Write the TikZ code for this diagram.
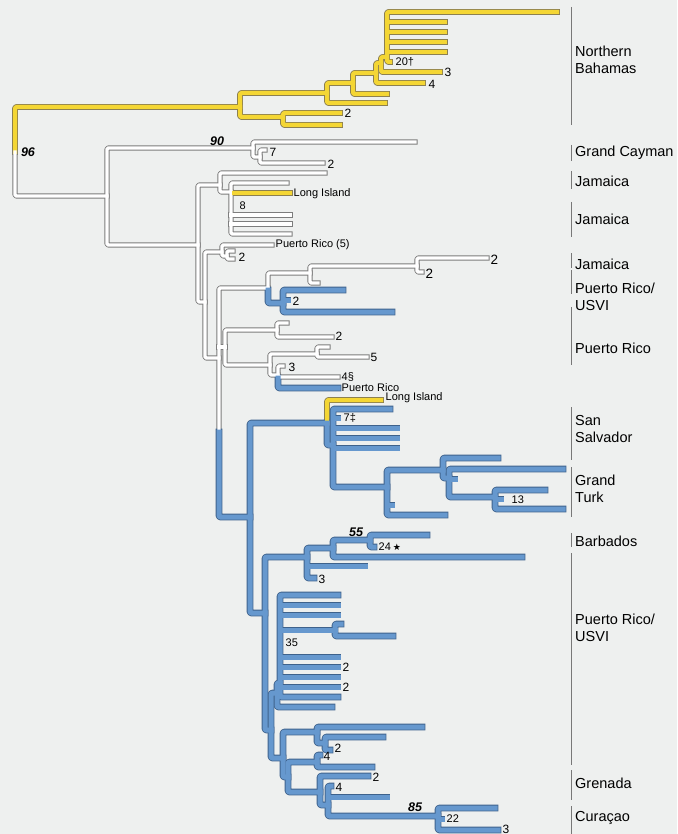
\documentclass[tikz,border=0pt]{standalone}
\usepackage{fontspec}
\setmainfont{Liberation Sans}
\newfontfamily\symfont{DejaVu Sans}
\definecolor{bgc}{RGB}{238,240,239}
\definecolor{yf}{RGB}{244,214,52}
\definecolor{yo}{RGB}{140,128,80}
\definecolor{bf}{RGB}{102,152,206}
\definecolor{bo}{RGB}{62,98,140}
\definecolor{wo}{RGB}{125,125,125}
\definecolor{regc}{RGB}{120,120,120}
\newcommand\brnode[6]{\draw[#1] (#4,#3) -- (#2,#3) -- (#2,#5) -- (#6,#5);}
\newcommand\brtip[4]{\draw[#1] (#2,#3) -- (#4,#3);}
\newcommand\treebody{%
% root
\draw[ybr] (240,107) -- (15,107) -- (15,152);
\draw[wbr] (15,152) -- (15,196) -- (107,196);
% Northern Bahamas (yellow)
\brnode{ybr}{240}{93}{327}{117}{283}
\brnode{ybr}{327}{83}{353}{103}{385}
\brnode{ybr}{353}{73}{376}{94}{387}
\brnode{ybr}{376}{63}{381}{83}{423}
\brnode{ybr}{381}{57}{387}{72}{440}
\brnode{ybr}{387}{12}{557}{62}{390}
\brtip{ybr}{387}{22}{445}
\brtip{ybr}{387}{32}{445}
\brtip{ybr}{387}{42}{445}
\brtip{ybr}{387}{52}{445}
\brnode{ybr}{283}{113}{340}{125}{340}
% Grand Cayman / Jamaica (white)
\brnode{wbr}{107}{148}{253}{245}{198}
\brnode{wbr}{253}{142}{415}{157}{260}
\brnode{wbr}{260}{150}{265}{163}{323}
\brnode{wbr}{198}{185}{220}{302}{205}
\brnode{wbr}{220}{173}{325}{192}{231}
\brnode{wbr}{231}{183}{287}{234}{290}
\brtip{ybr}{234}{193}{290}
\brtip{wbr}{231}{215}{290}
\brtip{wbr}{231}{224}{290}
\brnode{wbr}{205}{252}{222}{358}{219}
\brnode{wbr}{222}{245}{272}{256}{227}
\brnode{wbr}{227}{251}{233}{259}{233}
\draw[wbr] (268,288) -- (219,288) -- (219,432);
\draw[bbr] (219,432) -- (219,517) -- (250,517);
\brtip{wbr}{219}{347}{225}
\draw[wbr] (310,273) -- (268,273) -- (268,290);
\draw[bbr] (268,290) -- (268,303) -- (283,303);
\brnode{wbr}{310}{266}{417}{283}{318}
\brnode{wbr}{417}{258}{487}{272}{422}
\brnode{bbr}{283}{290}{343}{312}{392}
\brtip{bbr}{283}{300}{288}
% Puerto Rico
\brnode{wbr}{225}{330}{277}{365}{270}
\brnode{wbr}{277}{323}{287}{337}{332}
\brnode{wbr}{270}{354}{317}{375}{278}
\brnode{wbr}{317}{347}{328}{357}{367}
\draw[wbr] (283,366) -- (278,366) -- (278,377) -- (338,377);
\draw[bbr] (278,378) -- (278,388) -- (338,388);
% blue clade
\brnode{bbr}{250}{423}{327}{613}{265}
\draw[ybr] (381,400) -- (327,400) -- (327,423);
\draw[bbr] (327,423) -- (327,445) -- (333,445);
\brnode{bbr}{333}{409}{390}{487}{387}
\brtip{bbr}{333}{418}{338}
\brtip{bbr}{333}{428}{397}
\brtip{bbr}{333}{438}{397}
\brtip{bbr}{333}{448}{397}
% Grand Turk
\brnode{bbr}{387}{470}{443}{515}{445}
\brtip{bbr}{387}{505}{392}
\brnode{bbr}{443}{458}{498}{478}{449}
\brnode{bbr}{449}{469}{563}{497}{495}
\brtip{bbr}{449}{479}{455}
\brnode{bbr}{495}{490}{545}{509}{563}
\brtip{bbr}{495}{499}{501}
% Barbados
\brnode{bbr}{265}{557}{307}{730}{271}
\brnode{bbr}{307}{548}{333}{578}{314}
\brtip{bbr}{307}{566}{365}
\brnode{bbr}{333}{540}{370}{557}{522}
\brnode{bbr}{370}{535}{427}{547}{374}
% Puerto Rico / USVI
\brnode{bbr}{271}{693}{277}{758}{283}
\brnode{bbr}{277}{683}{280}{707}{332}
\brnode{bbr}{280}{595}{338}{697}{338}
\brtip{bbr}{280}{605}{338}
\brtip{bbr}{280}{615}{338}
\brtip{bbr}{280}{630}{335}
\brnode{bbr}{335}{624}{341}{636}{393}
\brtip{bbr}{280}{657}{338}
\brtip{bbr}{280}{667}{338}
\brtip{bbr}{280}{677}{338}
\brtip{bbr}{280}{687}{338}
% Grenada / Curacao
\brnode{bbr}{283}{732}{317}{777}{288}
\brnode{bbr}{317}{727}{422}{743}{325}
\brnode{bbr}{325}{737}{383}{750}{330}
\brnode{bbr}{288}{762}{317}{792}{320}
\brnode{bbr}{317}{755}{320}{767}{372}
\brnode{bbr}{320}{776}{368}{805}{328}
\brnode{bbr}{328}{786}{331}{816}{438}
\brtip{bbr}{328}{797}{387}
\brnode{bbr}{438}{808}{495}{830}{498}
\brtip{bbr}{438}{819}{442}
}
\tikzset{
  common/.style={line cap=rect, line join=round, rounded corners=1.2pt},
  tl/.style={anchor=west, inner sep=0.5pt, font=\fontsize{11}{12}\selectfont},
  tn/.style={anchor=west, inner sep=0.5pt, font=\fontsize{12}{13}\selectfont},
  bv/.style={inner sep=0.5pt, font=\fontsize{12.5}{13}\selectfont\bfseries\itshape},
  rl/.style={anchor=west, inner sep=0pt, align=left, font=\fontsize{14.5}{16.5}\selectfont},
  reg/.style={draw=regc, line width=1pt}
}
\begin{document}
\begin{tikzpicture}[x=1pt,y=-1pt]
\fill[bgc] (0,0) rectangle (677,834);
\useasboundingbox (0,0) rectangle (677,834);
\begin{scope}[common,
  ybr/.style={draw=yo, line width=5.8pt},
  wbr/.style={draw=wo, line width=5.2pt},
  bbr/.style={draw=bo, line width=6.8pt}]
\treebody
\end{scope}
\begin{scope}[common,
  ybr/.style={draw=yf, line width=4pt},
  wbr/.style={draw=white, line width=3.4pt},
  bbr/.style={draw=bf, line width=5pt}]
\treebody
\end{scope}
% bootstrap values
\node[bv] (b96) at (28,152) {96};
\node[bv] (b90) at (217,141) {90};
\node[bv] (b55) at (356,532) {55};
\node[bv] (b85) at (415,807) {85};
% tip labels
\node[tn] (t1) at (428,84) {4};
\node[tn] (t2) at (444,72) {3};
\node[tl] (t3) at (395,62) {20†};
\node[tn] (t4) at (344,113) {2};
\node[tn] (t5) at (269,152) {7};
\node[tn] (t6) at (327,164) {2};
\node[tl] (t7) at (293,194) {Long Island};
\node[tl] (t8) at (239,206) {8};
\node[tl] (t9) at (275,245) {Puerto Rico (5)};
\node[tn] (t10) at (238,257) {2};
\node[tn,font=\fontsize{13.5}{14}\selectfont] (t11) at (490,260) {2};
\node[tn,font=\fontsize{13.5}{14}\selectfont] (t12) at (425,274) {2};
\node[tn] (t13) at (292,301) {2};
\node[tn] (t14) at (335,336) {2};
\node[tn] (t15) at (370,357) {5};
\node[tn] (t16) at (288,367) {3};
\node[tl] (t17) at (341,377) {4§};
\node[tl] (t18) at (341,388) {Puerto Rico};
\node[tl] (t19) at (385,398) {Long Island};
\node[tl] (t20) at (343,418) {7‡};
\node[tl] (t21) at (511,500) {13};
\node[tl] (t22) at (378,547) {24\,{\symfont\fontsize{9}{10}\selectfont ★}};
\node[tn] (t23) at (318,579) {3};
\node[tl] (t24) at (285,643) {35};
\node[tn] (t25) at (342,667) {2};
\node[tn] (t26) at (342,687) {2};
\node[tn] (t27) at (334,748) {2};
\node[tn] (t28) at (323,756) {4};
\node[tn] (t29) at (372,777) {2};
\node[tn] (t30) at (335,787) {4};
\node[tl] (t31) at (446,819) {22};
\node[tn] (t32) at (502,829) {3};
% region bars and labels
\draw[reg] (571,7) -- (571,125);
\node[rl] (r1) at (575,60) {Northern\\Bahamas};
\draw[reg] (571,145) -- (571,161);
\node[rl] (r2) at (575,153) {Grand Cayman};
\draw[reg] (571,171) -- (571,189);
\node[rl] (r3) at (575,181) {Jamaica};
\draw[reg] (571,202) -- (571,237);
\node[rl] (r4) at (575,219) {Jamaica};
\draw[reg] (571,253) -- (571,268);
\node[rl] (r5) at (575,264) {Jamaica};
\draw[reg] (571,270) -- (571,294);
\node[rl] (r6) at (575,297) {Puerto Rico/\\USVI};
\draw[reg] (571,307) -- (571,365);
\node[rl] (r7) at (575,348) {Puerto Rico};
\draw[reg] (571,407) -- (571,460);
\node[rl] (r8) at (575,429) {San\\Salvador};
\draw[reg] (571,467) -- (571,517);
\node[rl] (r9) at (575,489) {Grand\\Turk};
\draw[reg] (571,533) -- (571,547);
\node[rl] (r10) at (575,541) {Barbados};
\draw[reg] (571,553) -- (571,765);
\node[rl] (r11) at (575,628) {Puerto Rico/\\USVI};
\draw[reg] (571,770) -- (571,800);
\node[rl] (r12) at (575,783) {Grenada};
\draw[reg] (571,806) -- (571,834);
\node[rl] (r13) at (575,818) {Curaçao};
\end{tikzpicture}
\end{document}
